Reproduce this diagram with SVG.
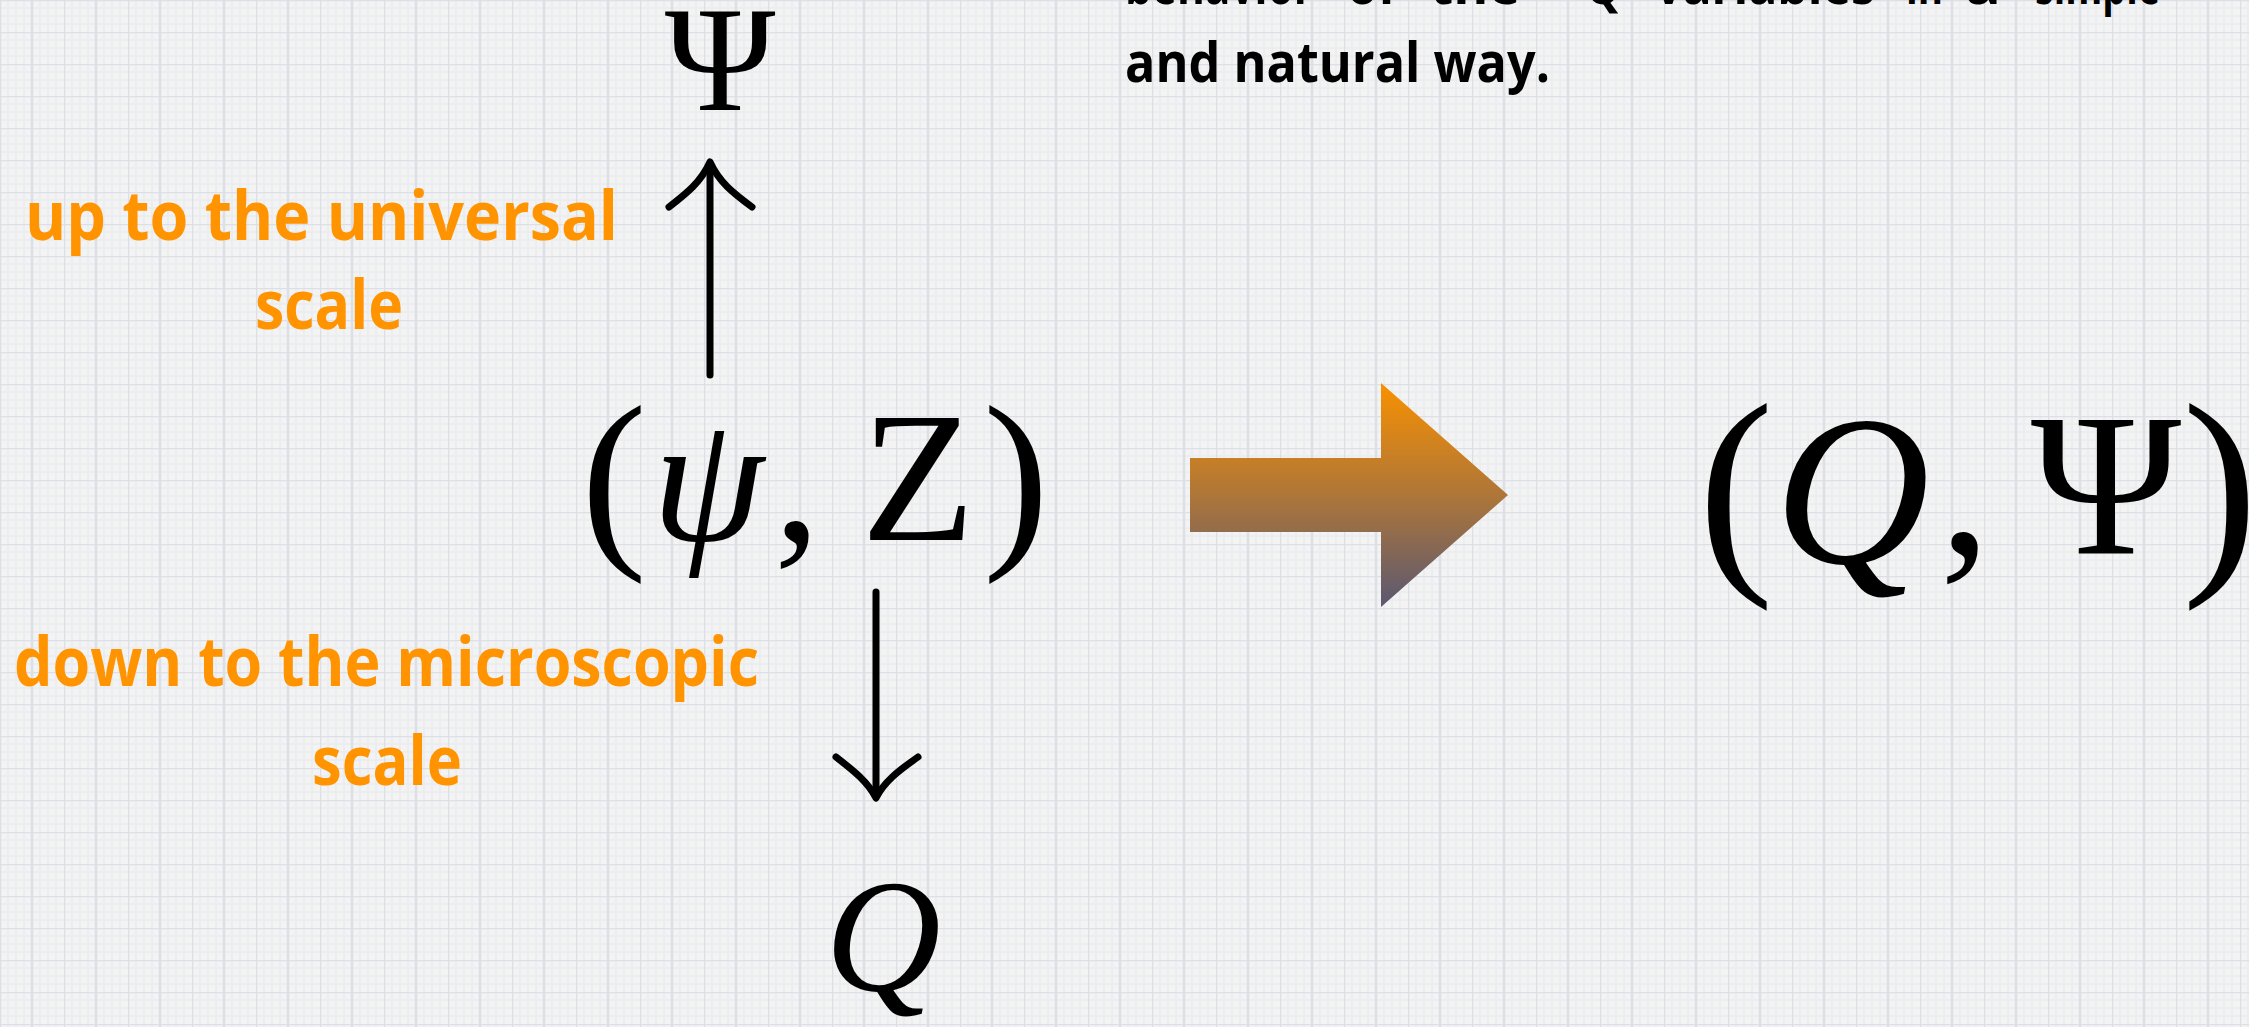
<svg xmlns="http://www.w3.org/2000/svg" width="2249" height="1027" viewBox="0 0 2249 1027">
<style>
.math{font-family:"Liberation Serif","DejaVu Serif",serif;fill:#000;text-anchor:middle}
.it{font-style:italic}
.lbl{font-family:"Comic Sans MS","Open Sans","Noto Sans",sans-serif;font-weight:bold;fill:#FF9300}
.txt{font-family:"Comic Sans MS","Open Sans","Noto Sans",sans-serif;font-weight:bold;fill:#000;font-size:56px}
.conn{fill:none;stroke:#000;stroke-width:7;stroke-linecap:round;stroke-linejoin:round}
</style>
<defs>
<pattern id="grid" width="64" height="32" patternUnits="userSpaceOnUse">
<rect width="64" height="32" fill="#F3F3F3"/>
<path d="M8 0V32M16 0V32M24 0V32M40 0V32M48 0V32M56 0V32M0 8H64M0 16H64M0 24H64" stroke="#E4E8EC" stroke-width="1.5" opacity="0.6"/>
<path d="M0 0V32M32 0V32M0 0H64" stroke="#DCE0E6" stroke-width="2.5"/>
</pattern>
<linearGradient id="ag" x1="0" y1="383" x2="0" y2="607" gradientUnits="userSpaceOnUse">
<stop offset="0" stop-color="#F99100"/>
<stop offset="0.5" stop-color="#AE7639"/>
<stop offset="1" stop-color="#5A5872"/>
</linearGradient>
</defs>
<rect width="2249" height="1027" fill="url(#grid)"/>

<g id="note">
<text class="txt" x="1125" y="4" textLength="188" lengthAdjust="spacingAndGlyphs">behavior</text>
<text class="txt" x="1347" y="4" textLength="50" lengthAdjust="spacingAndGlyphs">of</text>
<text class="txt" x="1430" y="4" textLength="90" lengthAdjust="spacingAndGlyphs">the</text>
<text class="txt" x="1585" y="4" textLength="36" lengthAdjust="spacingAndGlyphs">Q</text>
<text class="txt" x="1655" y="4" textLength="220" lengthAdjust="spacingAndGlyphs">variables</text>
<text class="txt" x="1906" y="4" textLength="37" lengthAdjust="spacingAndGlyphs">in</text>
<text class="txt" x="1965" y="4" textLength="36" lengthAdjust="spacingAndGlyphs">a</text>
<text class="txt" x="2035" y="4" textLength="125" lengthAdjust="spacingAndGlyphs">simple</text>
<text class="txt" x="1125" y="82" textLength="425" lengthAdjust="spacingAndGlyphs">and natural way.</text>
</g>

<g id="label-up">
<text class="lbl" x="25" y="240" font-size="68" textLength="593" lengthAdjust="spacingAndGlyphs">up to the universal</text>
<text class="lbl" x="255" y="329" font-size="68" textLength="148" lengthAdjust="spacingAndGlyphs">scale</text>
</g>

<g id="label-down">
<text class="lbl" x="14" y="686" font-size="68" textLength="745" lengthAdjust="spacingAndGlyphs">down to the microscopic</text>
<text class="lbl" x="312" y="785" font-size="68" textLength="150" lengthAdjust="spacingAndGlyphs">scale</text>
</g>

<g id="node-Psi">
<text class="math" x="720" y="110" font-size="150">Ψ</text>
</g>

<g id="node-psiZ">
<text class="math" x="614" y="542" font-size="198">(</text>
<text class="math it" x="708" y="540" font-size="180">ψ</text>
<text class="math" x="797" y="540" font-size="186">,</text>
<text class="math" x="918" y="540" font-size="186">Z</text>
<text class="math" x="1016" y="542" font-size="198">)</text>
</g>

<g id="node-Q">
<text class="math it" x="883" y="990" font-size="160">Q</text>
</g>

<g id="node-QPsi">
<text class="math" x="1736" y="562" font-size="228">(</text>
<text class="math it" x="1852" y="563" font-size="215">Q</text>
<text class="math" x="1965" y="553" font-size="204">,</text>
<text class="math" x="2106" y="553" font-size="204">Ψ</text>
<text class="math" x="2220" y="562" font-size="228">)</text>
</g>

<g id="connectors">
<path class="conn" d="M710 375V166"/>
<path class="conn" d="M669 207C687 193 701 182 710 162C719 182 733 193 752 207"/>
<path class="conn" d="M876 592V792"/>
<path class="conn" d="M836 757C854 771 868 782 876 798C884 782 898 771 918 757"/>
<polygon id="big-arrow" points="1190,458 1381,458 1381,383 1508,495 1381,607 1381,532 1190,532" fill="url(#ag)"/>
</g>
</svg>
